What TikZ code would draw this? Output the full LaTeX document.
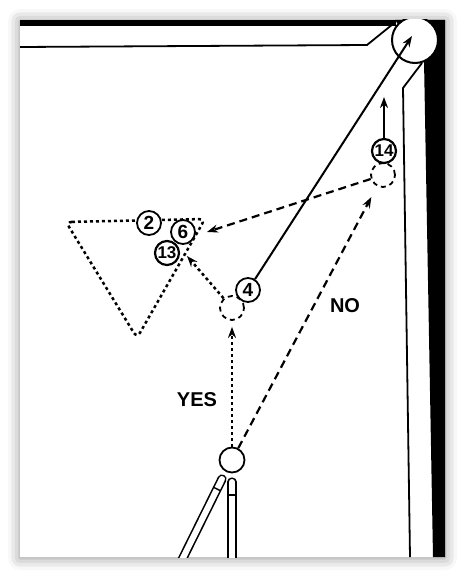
\documentclass[tikz,border=0pt]{standalone}
\usepackage{fontspec}
\setmainfont{Liberation Sans}
\usetikzlibrary{arrows.meta,shadows.blur}

\tikzset{
  ball/.style={circle, draw, fill=white, line width=1.8pt, minimum size=24pt,
    inner sep=0pt, font=\fontsize{19}{19}\selectfont\bfseries},
  striped/.style={ball, line width=2.2pt, font=\fontsize{17}{17}\selectfont\bfseries,
    path picture={\fill (path picture bounding box.south west) rectangle ++(30pt,4pt);}},
  ghost/.style={circle, draw, fill=white, line width=1.8pt,
    dash pattern=on 5pt off 4pt, minimum size=24pt, inner sep=0pt},
  tip/.style={-{Stealth[length=11pt,width=8pt,inset=3.5pt]}},
  solidline/.style={tip, line width=2pt},
  dashline/.style={tip, line width=2.2pt, dash pattern=on 8pt off 5pt},
  dotline/.style={tip, line width=2.5pt, dash pattern=on 3pt off 3pt},
  cue/.style={line width=1.6pt, double=white, double distance=6pt, line cap=round},
  answer/.style={font=\fontsize{20}{20}\selectfont\bfseries}
}

\begin{document}
\begin{tikzpicture}[x=1pt,y=-1pt]
  \useasboundingbox (0,0) rectangle (465,578);

  % Photo frame
  \fill[white, blur shadow={shadow xshift=0pt, shadow yshift=-1pt,
    shadow blur radius=12pt, shadow opacity=45}] (20,20) rectangle (445,557);

  \begin{scope}
    \clip (20,20) rectangle (445,557);

    % Rails and pocket
    \fill (20,20) rectangle (396,26);
    \fill (395,20) -- (445,20) -- (445,557) -- (433,557) -- (424,60) -- cycle;
    \draw[line width=1.8pt] (20,47) -- (367,45) -- (393,24);
    \draw[line width=1.8pt] (422,63) -- (403,88) -- (410,557);
    \node[circle, draw, fill=white, line width=2pt, minimum size=46pt] (pocket) at (415,40) {};

    % Rack
    \draw[line width=2.5pt, dash pattern=on 3pt off 3pt, rounded corners=6pt]
      (66,222) -- (205,219) -- (137,338) -- cycle;

    % Cues
    \draw[cue] (232,482) -- (232,570);
    \draw[line width=1.4pt] (228.5,495) -- (235.5,495);
    \draw[cue] (222,479) -- (176,572);
    \draw[line width=1.4pt] (213.3,487.2) -- (220.3,490.6);

    % Balls
    \node[ball, minimum size=25pt] (cue) at (232,460) {};
    \node[ghost] (ghostA) at (232,308) {};
    \node[ghost] (ghostB) at (383,175) {};
    \node[ball] (b4) at (248,290) {4};
    \node[ball] (b2) at (149,223) {2};
    \node[ball] (b6) at (183,232) {6};
    \node[striped] (b13) at (167,253) {13};
    \node[striped] (b14) at (384,151) {14};

    % Aim points
    \coordinate (tipP) at (412,36);
    \coordinate (tipU) at (384,97);
    \coordinate (aimA) at (207,232);
    \coordinate (aimB) at (187,256);

    % Shots
    \draw[solidline] (b4) -- (tipP);
    \draw[solidline] (b14) -- (tipU);
    \draw[dotline, shorten >=6pt] (cue) -- (ghostA);
    \draw[dashline, shorten >=12pt] (cue) -- (ghostB);
    \draw[dashline] (ghostB) -- (aimA);
    \draw[dotline] (ghostA) -- (aimB);

    % Labels
    \node[answer] (yes) at (197,400) {YES};
    \node[answer] (no) at (345,306) {NO};
  \end{scope}
\end{tikzpicture}
\end{document}
